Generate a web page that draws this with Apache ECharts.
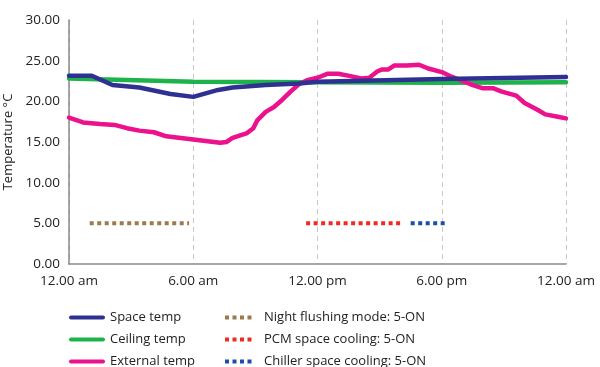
<!DOCTYPE html>
<html>
<head>
<meta charset="utf-8">
<script src="https://cdn.jsdelivr.net/npm/echarts@6/dist/echarts.min.js"></script>
<style>html,body{margin:0;padding:0;background:#fff}#c{width:600px;height:367px}</style>
</head>
<body>
<div id="c"></div>
<script>
// x positions in hours since midnight
const xTickValues = [0, 6, 12, 18, 24];
const xTickLabels = ['12.00 am', '6.00 am', '12.00 pm', '6.00 pm', '12.00 am'];

const spaceHours = [0, 1.1, 2.1, 3.4, 4.9, 6.0, 7.2, 7.9, 9.5, 11.1, 12, 18, 24];
const spaceTemps = [23.15, 23.15, 22.0, 21.7, 20.9, 20.55, 21.4, 21.7, 22.0, 22.2, 22.4, 22.75, 23.0];

const ceilingHours = [0, 6, 12, 18, 24];
const ceilingTemps = [22.8, 22.4, 22.35, 22.3, 22.35];

const externalHours = [0, 0.68, 1.5, 2.2, 2.8, 3.4, 4.1, 4.7, 5.4, 6.0, 6.7, 7.3, 7.6, 7.9, 8.6, 8.9, 9.1, 9.5, 9.9, 10.3, 10.7, 11.1, 11.5, 12.0, 12.5, 13.0, 13.6, 14.1, 14.5, 14.9, 15.1, 15.4, 15.7, 16.3, 16.9, 17.4, 18.0, 18.5, 19.0, 19.5, 20.0, 20.5, 20.9, 21.6, 22.0, 22.6, 23.0, 23.6, 24.0];
const externalTemps = [18.0, 17.4, 17.2, 17.1, 16.7, 16.4, 16.2, 15.7, 15.5, 15.3, 15.1, 14.9, 15.0, 15.5, 16.1, 16.7, 17.7, 18.7, 19.3, 20.2, 21.2, 22.1, 22.6, 22.9, 23.4, 23.4, 23.1, 22.8, 22.9, 23.7, 23.9, 23.9, 24.4, 24.4, 24.5, 24.0, 23.6, 23.0, 22.5, 22.0, 21.6, 21.6, 21.2, 20.7, 19.8, 19.0, 18.4, 18.1, 17.9];

const nightHours = [1.0, 5.8];
const nightValues = [5, 5];
const pcmHours = [11.45, 16.1];
const pcmValues = [5, 5];
const chillerHours = [16.5, 18.3];
const chillerValues = [5, 5];

const seriesNames = ['Space temp', 'Ceiling temp', 'External temp',
  'Night flushing mode: 5-ON', 'PCM space cooling: 5-ON', 'Chiller space cooling: 5-ON'];

const pairs = (xs, ys) => xs.map((x, i) => [x, ys[i]]);

const FONT = 'Open Sans';
const chart = echarts.init(document.getElementById('c'), null, {renderer: 'canvas'});
const solid = (name, color, xs, ys, z) => ({
  name, type: 'line', data: pairs(xs, ys), symbol: 'none', smooth: false, z,
  lineStyle: {color, width: 4.5, cap: 'round', join: 'round'}, itemStyle: {color}
});
const dotted = (name, color, xs, ys) => ({
  name, type: 'line', data: pairs(xs, ys), symbol: 'none',
  lineStyle: {color, width: 4, type: [4, 3.5], cap: 'butt'}, itemStyle: {color}
});

const legendPos = [[69, 311], [69, 333], [69, 355], [223, 311], [223, 333], [223, 355]];
const legends = seriesNames.map((n, i) => ({
  data: [n], orient: 'horizontal', left: legendPos[i][0], top: legendPos[i][1],
  itemWidth: i < 3 ? 32 : 30, itemHeight: 14, itemGap: 0, padding: 0,
  itemStyle: {opacity: 0},
  lineStyle: {width: 4},
  textStyle: {color: '#222', fontFamily: FONT, fontSize: 13, padding: [0, 0, 0, i < 3 ? 2 : 4]}
}));

chart.setOption({
  animation: false,
  backgroundColor: '#fff',
  grid: {left: 69, right: 34, top: 20, bottom: 103, outerBoundsMode: 'none', containLabel: false},
  xAxis: {
    type: 'value', min: 0, max: 24, interval: 6,
    axisLine: {show: true, lineStyle: {color: '#8a8a8a', width: 1.5}},
    axisTick: {show: false},
    splitLine: {show: true, lineStyle: {color: '#c8c8c8', type: [5, 4], width: 1}},
    axisLabel: {
      color: '#222', fontFamily: FONT, fontSize: 13.5, margin: 10,
      formatter: v => { const i = xTickValues.indexOf(v); return i >= 0 ? xTickLabels[i] : ''; }
    }
  },
  yAxis: {
    type: 'value', min: 0, max: 30, interval: 5,
    name: 'Temperature °C', nameLocation: 'middle', nameGap: 50, nameRotate: 90,
    nameTextStyle: {color: '#222', fontFamily: FONT, fontSize: 13},
    axisLine: {show: true, lineStyle: {color: '#8a8a8a', width: 1.5}},
    axisTick: {show: false},
    splitLine: {show: false},
    axisLabel: {color: '#222', fontFamily: FONT, fontSize: 13.5, margin: 9, formatter: v => v.toFixed(2)}
  },
  legend: legends,
  series: [
    solid(seriesNames[0], '#2e3192', spaceHours, spaceTemps, 5),
    solid(seriesNames[1], '#1db34a', ceilingHours, ceilingTemps, 3),
    solid(seriesNames[2], '#ec118c', externalHours, externalTemps, 4),
    dotted(seriesNames[3], '#9b7a4c', nightHours, nightValues),
    dotted(seriesNames[4], '#ee2a24', pcmHours, pcmValues),
    dotted(seriesNames[5], '#1f4ea8', chillerHours, chillerValues)
  ]
});
</script>
</body>
</html>
